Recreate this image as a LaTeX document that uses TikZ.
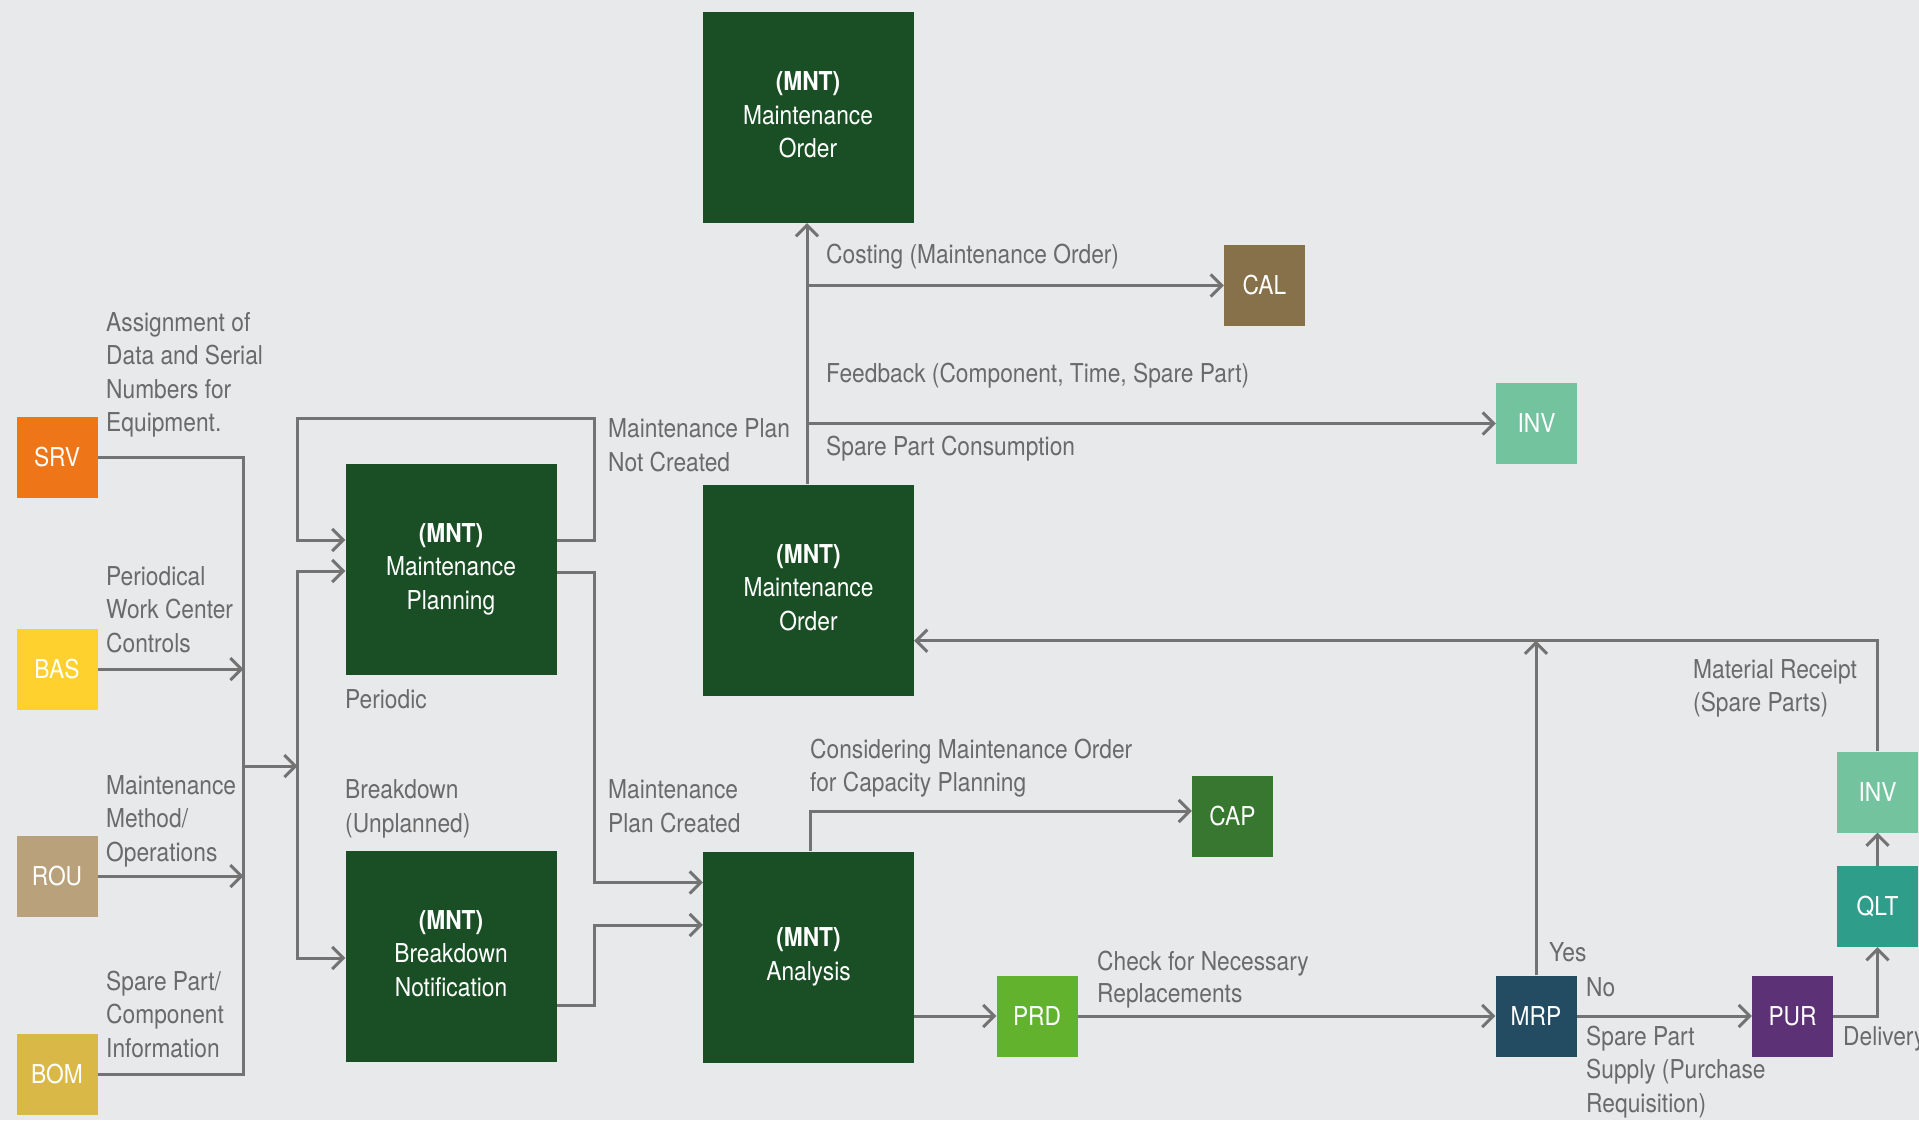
\documentclass[tikz,border=0pt]{standalone}
\usepackage{fontspec}
\setmainfont{TeX Gyre Heros}[FakeStretch=0.875]
\usetikzlibrary{arrows.meta}

\definecolor{bg}{HTML}{E8E9EB}
\definecolor{linegray}{HTML}{737373}
\definecolor{txtgray}{HTML}{6A6A6A}
\definecolor{mntgreen}{HTML}{1A4F25}
\definecolor{srvc}{HTML}{EE7518}
\definecolor{basc}{HTML}{FFD12F}
\definecolor{rouc}{HTML}{B9A27B}
\definecolor{bomc}{HTML}{DAB847}
\definecolor{calc}{HTML}{87714B}
\definecolor{invc}{HTML}{73C39F}
\definecolor{capc}{HTML}{38772F}
\definecolor{prdc}{HTML}{63B22E}
\definecolor{mrpc}{HTML}{234B62}
\definecolor{purc}{HTML}{5C3175}
\definecolor{qltc}{HTML}{2E9D89}

\begin{document}
\begin{tikzpicture}[x=1pt, y=-1pt,
  conn/.style={draw=linegray, line width=3pt},
  arr/.style={conn, -{Straight Barb[length=11pt,width=22pt]}},
  txt/.style={font=\fontsize{26}{33.5}\selectfont},
  mnt/.style={txt, fill=mntgreen, text=white, minimum width=211pt,
    minimum height=211pt, inner sep=0pt, align=center},
  tag/.style={txt, minimum width=81pt, minimum height=81pt, inner sep=0pt,
    text=white},
  lbl/.style={txt, anchor=north west, inner sep=0pt, align=left, text=txtgray},
]
\fill[bg] (0,0) rectangle (1919,1120);
\useasboundingbox (0,0) rectangle (1919,1120);

% maintenance process boxes
\node[mnt] (mo1)  at (808,117.5) {\strut\textbf{(MNT)}\\\strut Maintenance\\\strut Order};
\node[mnt] (mo2)  at (808.5,590) {\strut\textbf{(MNT)}\\\strut Maintenance\\\strut Order};
\node[mnt] (plan) at (451,569)   {\strut\textbf{(MNT)}\\\strut Maintenance\\\strut Planning};
\node[mnt] (bd)   at (451,956)   {\strut\textbf{(MNT)}\\\strut Breakdown\\\strut Notification};
\node[mnt] (ana)  at (808.5,957) {\strut\textbf{(MNT)}\\\strut Analysis};

% module tags
\node[tag, fill=srvc] (srv)  at (57,457)      {SRV};
\node[tag, fill=basc] (bas)  at (57,669)      {BAS};
\node[tag, fill=rouc] (rou)  at (57,876)      {ROU};
\node[tag, fill=bomc] (bom)  at (57,1074.5)   {BOM};
\node[tag, fill=calc] (cal)  at (1264.5,285.5) {CAL};
\node[tag, fill=invc] (inv1) at (1536.5,423.5) {INV};
\node[tag, fill=capc] (cap)  at (1232.5,816.5) {CAP};
\node[tag, fill=prdc] (prd)  at (1037,1016)   {PRD};
\node[tag, fill=mrpc] (mrp)  at (1536,1016)   {MRP};
\node[tag, fill=purc] (pur)  at (1792.5,1016) {PUR};
\node[tag, fill=qltc] (qlt)  at (1877.5,906.5) {QLT};
\node[tag, fill=invc] (inv2) at (1877.5,792)  {INV};

% helper coordinates for the routing
\coordinate (bus1) at (243.5,0);
\coordinate (bus2) at (297.5,0);
\coordinate (split) at (594,0);
\coordinate (upx) at (807,0);
\coordinate (anaup) at (810,0);
\coordinate (busout) at (243.5,766);
\coordinate (pin) at (297.5,571);
\coordinate (bin) at (297.5,958);
\coordinate (loopy) at (0,540);
\coordinate (looptop) at (0,418.6);
\coordinate (outy) at (0,572);
\coordinate (crty) at (0,882.5);
\coordinate (bdy) at (0,1005);
\coordinate (bdin) at (0,925);
\coordinate (rety) at (0,640.7);
\coordinate (capy) at (0,811);

% input bus
\draw[conn] (srv.east) -| (bus1 |- bom.east) -- (bom.east);
\draw[arr] (bas.east) -- (bas.east -| bus1);
\draw[arr] (rou.east) -- (rou.east -| bus1);
\draw[arr] (busout) -- (busout -| bus2);
\draw[arr] (bin) -- (pin) -- (pin -| plan.west);
\draw[arr] (pin) -- (bin) -- (bin -| bd.west);

% planning loop and outputs
\draw[arr] (plan.east |- loopy) -| (split |- looptop) -| (bus2 |- loopy) -- (plan.west |- loopy);
\draw[arr] (plan.east |- outy) -| (split |- crty) -- (ana.west |- crty);
\draw[arr] (bd.east |- bdy) -| (split |- bdin) -- (ana.west |- bdin);

% analysis and spare part supply
\draw[arr] (ana.east |- prd.west) -- (prd.west);
\draw[arr] (prd.east) -- (mrp.west);
\draw[arr] (mrp.east) -- (pur.west);
\draw[arr] (pur.east) -| (qlt.south);
\draw[arr] (qlt.north) -- (inv2.south);
\draw[arr] (inv2.north) |- (mo2.east |- rety);
\draw[arr] (mrp.north) -- (mrp.north |- rety);
\draw[arr] (ana.north -| anaup) |- (cap.west |- capy);

% order execution
\draw[arr] (mo2.north -| upx) -- (mo1.south -| upx);
\draw[arr] (upx |- cal.west) -- (cal.west);
\draw[arr] (upx |- inv1.west) -- (inv1.west);

% labels
\node[lbl] (l1)  at (106,307.5)  {\strut Assignment of\\Data and Serial\\Numbers for\\Equipment.};
\node[lbl] (l2)  at (106,561.5)  {\strut Periodical\\Work Center\\Controls};
\node[lbl] (l3)  at (106,770.5)  {\strut Maintenance\\Method/\\Operations};
\node[lbl] (l4)  at (106,966.5)  {\strut Spare Part/\\Component\\Information};
\node[lbl] (l5)  at (608,414)    {\strut Maintenance Plan\\Not Created};
\node[lbl] (l6)  at (826,240)    {\strut Costing (Maintenance Order)};
\node[lbl] (l7)  at (826,358.5)  {\strut Feedback (Component, Time, Spare Part)};
\node[lbl] (l8)  at (826,431.5)  {\strut Spare Part Consumption};
\node[lbl] (l9)  at (345,684.5)  {\strut Periodic};
\node[lbl] (l10) at (345,775)    {\strut Breakdown\\(Unplanned)};
\node[lbl] (l11) at (608,775)    {\strut Maintenance\\Plan Created};
\node[lbl] (l12) at (810,734.5)  {\strut Considering Maintenance Order\\for Capacity Planning};
\node[lbl] (l13) at (1693,654.5) {\strut Material Receipt\\(Spare Parts)};
\node[lbl, font=\fontsize{26}{32}\selectfont] (l14) at (1097,947.5) {\strut Check for Necessary\\Replacements};
\node[lbl] (l15) at (1549,937.5) {\strut Yes};
\node[lbl] (l16) at (1586,972.5) {\strut No};
\node[lbl] (l17) at (1586,1021.5) {\strut Spare Part\\Supply (Purchase\\Requisition)};
\node[lbl] (l18) at (1843,1021.5) {\strut Delivery};
\end{tikzpicture}
\end{document}
